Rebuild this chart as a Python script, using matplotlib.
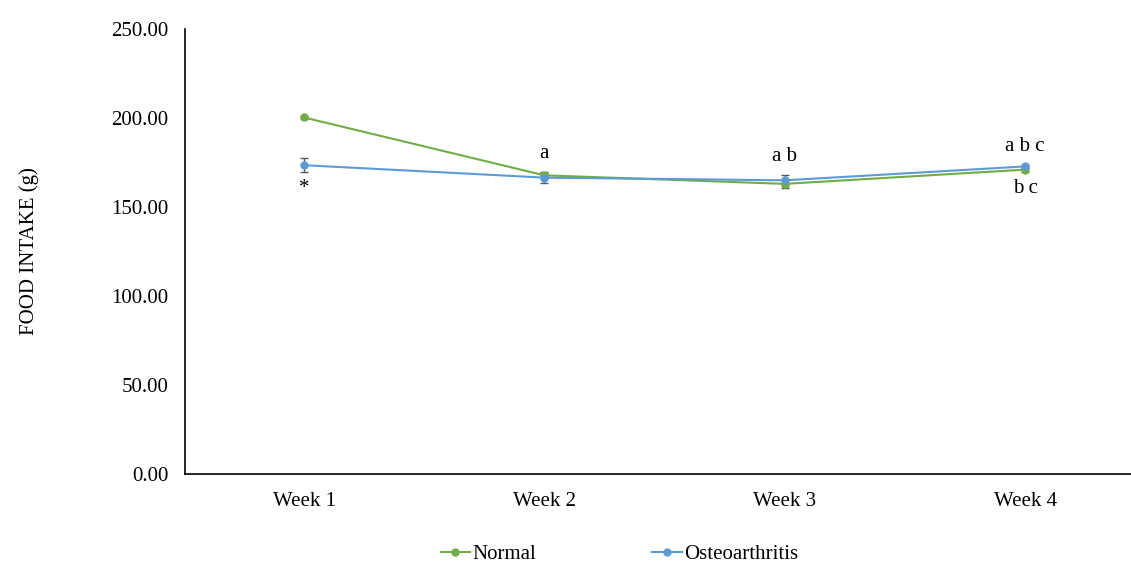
import numpy as np
import matplotlib.pyplot as plt
from matplotlib.lines import Line2D

# weekly food intake (g), mean and error
weeks = ['Week 1', 'Week 2', 'Week 3', 'Week 4']
normal = [200.3, 167.8, 163.0, 171.0]
normal_err = [1.0, 1.5, 2.5, 1.5]
oa = [173.5, 166.5, 165.0, 172.8]
oa_err = [4.0, 3.0, 3.0, 1.0]

# significance letters: (week index, text)
marks_above = [(1, 'a'), (2, 'a b'), (3, 'a b c')]
marks_below = [(0, '*'), (3, 'b c')]

plt.rcParams['font.family'] = ['Liberation Serif', 'DejaVu Serif']
fs = 15

fig = plt.figure(figsize=(11.31, 5.63), dpi=100)
ax = fig.add_axes([0.1636, 0.158, 0.8364, 0.7905])

x = np.arange(len(weeks))
green = '#70AD47'
blue = '#5B9BD5'

ax.errorbar(x, normal, yerr=normal_err, color=green, marker='o', ms=5,
            lw=1.5, ecolor='#595959', elinewidth=1, capsize=3)
ax.errorbar(x, oa, yerr=oa_err, color=blue, marker='o', ms=5,
            lw=1.5, ecolor='#595959', elinewidth=1, capsize=3)

for i, txt in marks_above:
    top = max(normal[i] + normal_err[i], oa[i] + oa_err[i])
    ax.text(x[i], top + 5, txt, ha='center', va='bottom', fontsize=fs)
for i, txt in marks_below:
    bot = min(normal[i] - normal_err[i], oa[i] - oa_err[i])
    ax.text(x[i], bot - 4, txt, ha='center', va='top', fontsize=fs)

ax.set_xlim(-0.495, 3.44)
ax.set_ylim(0, 250)
ax.set_yticks(np.arange(0, 251, 50))
ax.set_yticklabels([f'{v:.2f}' for v in np.arange(0, 251, 50)])
ax.set_xticks(x)
ax.set_xticklabels(weeks)
ax.tick_params(axis='both', length=0, labelsize=fs, colors='black')
ax.tick_params(axis='y', pad=12)
ax.tick_params(axis='x', pad=13)

for side in ['top', 'right']:
    ax.spines[side].set_visible(False)
for side in ['left', 'bottom']:
    ax.spines[side].set_linewidth(1.2)

ax.set_ylabel('FOOD INTAKE (g)', fontsize=fs, labelpad=52)

handles = [Line2D([], [], color=green, marker='o', ms=5, lw=1.5),
           Line2D([], [], color=blue, marker='o', ms=5, lw=1.5)]
ax.legend(handles, ['Normal', 'Osteoarthritis'], loc='center',
          bbox_to_anchor=(0.459, -0.18), ncol=2, frameon=False, fontsize=fs,
          handlelength=1.4, columnspacing=5.6, handletextpad=0.1)

fig.savefig('out.png', dpi=100)
